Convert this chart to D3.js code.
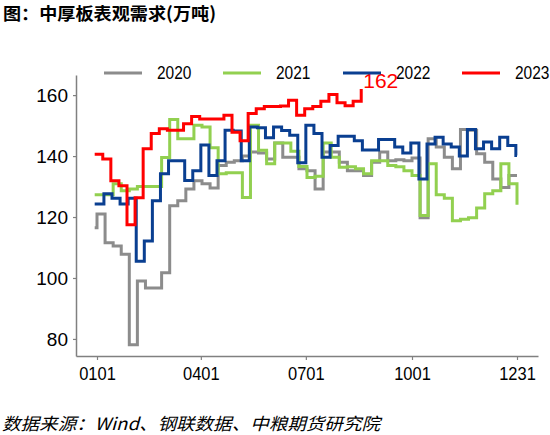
<!DOCTYPE html>
<html><head><meta charset="utf-8">
<script src="https://cdn.jsdelivr.net/npm/d3@7"></script>
<style>
body{margin:0;background:#fff;}
svg{display:block;font-family:"Liberation Sans",Arial,sans-serif;}
</style></head>
<body>
<svg id="chart" width="550" height="435"></svg>
<script>
// ---- data ----
const title = "图：中厚板表观需求(万吨)";
const source = "数据来源：Wind、钢联数据、中粮期货研究院";
const years = ["2020", "2021", "2022", "2023"];
const colors = ["#8c8c8c", "#92d050", "#0a3f91", "#ff0000"];
const xTickDays = [0, 90, 181, 273, 364];
const xTickLabels = ["0101", "0401", "0701", "1001", "1231"];
const yTicks = [80, 100, 120, 140, 160];

// weekly values: carry-over value (from prior year end), first reporting day-of-year, weekly values, year-end value
const carry2020 = 116.5, start2020 = 0, end2020 = 133.6;
const values2020 = [121.0,111.6,110.5,107.8,78.1,99.0,96.7,96.7,101.7,123.7,125.3,129.2,131.9,130.9,129.5,136.9,138.0,138.5,140.0,141.3,141.0,139.0,144.3,139.6,139.6,135.8,135.2,129.2,141.3,141.3,138.0,135.2,135.2,133.6,138.0,141.3,138.5,138.8,138.5,139.4,119.8,145.7,143.0,139.6,135.8,148.7,148.5,140.8,138.0,132.5,129.7,133.6];
const carry2021 = 127.3, start2021 = 0, end2021 = 124.0;
const values2021 = [127.3,127.3,130.9,128.6,129.2,130.0,130.0,130.0,139.5,152.0,145.7,145.7,150.1,149.5,142.7,134.2,134.5,134.5,126.4,150.1,141.9,137.5,144.3,144.3,141.6,136.6,133.0,133.4,144.3,139.6,136.3,136.5,135.8,134.2,138.5,138.5,136.9,136.5,135.2,133.6,120.5,137.5,127.3,126.2,118.8,119.3,119.8,123.0,127.6,128.6,137.5,130.9];
const carry2022 = 124.3, start2022 = 6, end2022 = 140.2;
const values2022 = [127.6,126.2,124.3,126.2,105.5,112.1,125.3,134.2,138.5,138.5,132.0,135.2,143.6,133.6,138.5,148.5,148.2,138.5,149.5,149.3,146.0,149.5,148.4,146.8,137.8,150.1,147.4,139.6,143.5,146.5,146.5,145.0,142.0,142.0,145.4,145.4,143.0,141.0,144.3,132.5,144.0,146.2,144.0,143.0,140.0,148.7,142.4,144.6,142.4,146.2,143.5,140.2];
const carry2023 = 140.6, start2023 = 5, end2023 = null;
const values2023 = [139.0,131.9,130.3,117.5,126.3,142.4,147.4,149.0,148.5,148.5,150.6,153.0,152.2,152.2,152.2,153.4,147.8,145.0,154.0,155.5,156.3,156.3,156.4,158.3,153.4,155.5,156.3,158.0,160.2,157.5,156.5,158.0,162.0];
const lastLabel = "162";

const seriesDefs = [
  {carry: carry2020, start: start2020, vals: values2020, end: end2020},
  {carry: carry2021, start: start2021, vals: values2021, end: end2021},
  {carry: carry2022, start: start2022, vals: values2022, end: end2022},
  {carry: carry2023, start: start2023, vals: values2023, end: end2023}
];
const series = seriesDefs.map((s, i) => {
  const pts = [{d: -2, v: s.carry}];
  s.vals.forEach((v, k) => pts.push({d: s.start + 7 * k, v}));
  if (s.end !== null) pts.push({d: 364, v: s.end});
  return {name: years[i], color: colors[i], pts};
});

// ---- chart ----
const svg = d3.select("#chart");
const x = d3.scaleLinear().domain([-18.2, 382.2]).range([76, 538]);
const y = d3.scaleLinear().domain([74.4, 166.6]).range([356, 75]);

// title
svg.append("text").attr("x", 3).attr("y", 20)
  .attr("font-family", "'Noto Sans CJK SC',sans-serif").attr("font-weight", "bold")
  .attr("font-size", 17.5).attr("fill", "#000")
  .attr("textLength", 213).attr("lengthAdjust", "spacingAndGlyphs")
  .text(title);

// axes
const xAxis = svg.append("g").attr("transform", `translate(0,${y.range()[0]})`)
  .call(d3.axisBottom(x).tickValues(xTickDays).tickFormat((d, i) => xTickLabels[i]).tickSizeOuter(0).tickSizeInner(4).tickPadding(6));
xAxis.select(".domain").attr("stroke", "#808080").attr("stroke-width", 1.5);
xAxis.selectAll(".tick line").attr("stroke", "#808080").attr("stroke-width", 1.2);
xAxis.selectAll(".tick text").attr("font-size", 16.5).attr("fill", "#000")
  .attr("font-family", "'Liberation Sans',Arial,sans-serif")
  .attr("transform", "scale(1,1.12)").attr("dy", "0.71em");

const yAxis = svg.append("g").attr("transform", `translate(${x.range()[0]},0)`)
  .call(d3.axisLeft(y).tickValues(yTicks).tickSizeOuter(0).tickSizeInner(3).tickPadding(5));
yAxis.select(".domain").attr("stroke", "#808080").attr("stroke-width", 1.5);
yAxis.selectAll(".tick line").attr("stroke", "#808080").attr("stroke-width", 1.2);
yAxis.selectAll(".tick text").attr("font-size", 19).attr("fill", "#000")
  .attr("font-family", "'Liberation Sans',Arial,sans-serif");

// lines
const line = d3.line().x(p => x(p.d)).y(p => y(p.v)).curve(d3.curveStepAfter);
svg.append("g").selectAll("path").data(series).join("path")
  .attr("d", s => line(s.pts))
  .attr("fill", "none").attr("stroke", s => s.color)
  .attr("stroke-width", 3).attr("stroke-linejoin", "miter");

// last-value label for 2023
const s23 = series[3];
const lp = s23.pts[s23.pts.length - 1];
svg.append("text").attr("x", x(lp.d) + 2).attr("y", y(lp.v) - 1)
  .attr("font-size", 21).attr("fill", "#ff0000")
  .attr("font-family", "'Liberation Sans',Arial,sans-serif")
  .text(lastLabel);

// legend
const legX = [104, 223, 343, 462];
const leg = svg.append("g");
series.forEach((s, i) => {
  const g = leg.append("g").attr("transform", `translate(${legX[i]},73)`);
  g.append("line").attr("x1", 0).attr("x2", 38).attr("y1", 0).attr("y2", 0)
    .attr("stroke", s.color).attr("stroke-width", 3);
  g.append("text").attr("x", 53).attr("y", 0).attr("dy", "0.36em")
    .attr("font-size", 15.5).attr("fill", "#000")
    .attr("font-family", "'Liberation Sans',Arial,sans-serif")
    .attr("transform", "scale(1,1.15)")
    .text(s.name);
});

// source
svg.append("text").attr("x", 2).attr("y", 430)
  .attr("font-family", "'Noto Sans CJK SC',sans-serif").attr("font-style", "italic")
  .attr("font-size", 17).attr("fill", "#000")
  .attr("textLength", 378).attr("lengthAdjust", "spacingAndGlyphs")
  .text(source);
</script>
</body></html>
